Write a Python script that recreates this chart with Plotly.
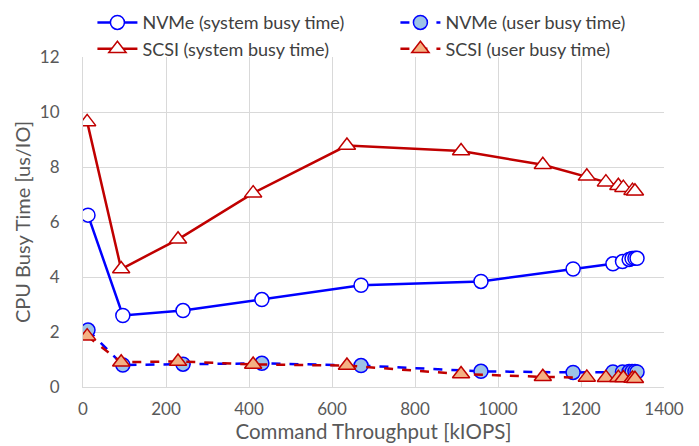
import plotly.graph_objects as go

nvme_x = [12, 96, 241, 431, 670, 959, 1181, 1277, 1300, 1316, 1323, 1330, 1335]
nvme_sys = [6.25, 2.6, 2.78, 3.18, 3.7, 3.84, 4.29, 4.48, 4.56, 4.64, 4.67, 4.68, 4.68]
nvme_usr = [2.07, 0.8, 0.83, 0.86, 0.78, 0.57, 0.53, 0.55, 0.55, 0.56, 0.56, 0.56, 0.55]

scsi_x = [10, 92, 229, 410, 636, 911, 1108, 1214, 1260, 1290, 1302, 1324, 1330]
scsi_sys = [9.64, 4.29, 5.37, 7.05, 8.78, 8.58, 8.08, 7.66, 7.45, 7.32, 7.25, 7.14, 7.12]
scsi_usr = [1.85, 0.9, 0.93, 0.82, 0.78, 0.47, 0.37, 0.35, 0.34, 0.34, 0.33, 0.31, 0.3]

BLUE = "#0000FF"
RED = "#C00000"
FONT = "Lato"

fig = go.Figure()
fig.add_trace(go.Scatter(x=nvme_x, y=nvme_sys, name="NVMe (system busy time)", mode="lines+markers",
                         line=dict(color=BLUE, width=2.5),
                         marker=dict(symbol="circle", size=14, color="white", line=dict(color=BLUE, width=1.5))))
fig.add_trace(go.Scatter(x=nvme_x, y=nvme_usr, name="NVMe (user busy time)", mode="lines+markers",
                         line=dict(color=BLUE, width=2.5, dash="dash"),
                         marker=dict(symbol="circle", size=14, color="#9DC3E6", line=dict(color=BLUE, width=1.5))))
fig.add_trace(go.Scatter(x=scsi_x, y=scsi_sys, name="SCSI (system busy time)", mode="lines+markers",
                         line=dict(color=RED, width=2.5),
                         marker=dict(symbol="triangle-up", size=15, color="white", line=dict(color=RED, width=1.5))))
fig.add_trace(go.Scatter(x=scsi_x, y=scsi_usr, name="SCSI (user busy time)", mode="lines+markers",
                         line=dict(color=RED, width=2.5, dash="dash"),
                         marker=dict(symbol="triangle-up", size=15, color="#F4B183", line=dict(color=RED, width=1.5))))

# the page body has an 8px margin, so margins are offset by 8px
fig.update_layout(
    width=699, height=446,
    margin=dict(l=75, r=43, t=49, b=67, autoexpand=False),
    paper_bgcolor="white", plot_bgcolor="white",
    font=dict(family=FONT, color="#595959", size=17),
    legend=dict(orientation="h", xref="paper", yref="paper",
                x=-0.001, y=1.16, xanchor="left", yanchor="top",
                indentation=10,
                entrywidth=238, entrywidthmode="pixels", font=dict(size=18, color="#404040"),
                tracegroupgap=0, itemwidth=40, bgcolor="rgba(0,0,0,0)"),
    xaxis=dict(range=[0, 1400], dtick=200, showgrid=True, gridcolor="#D9D9D9", gridwidth=1,
               zeroline=False, showline=True, linecolor="#D9D9D9", ticks="", automargin=False,
               ticklabelstandoff=7,
               title=dict(text="Command Throughput [kIOPS]", font=dict(size=20.5, color="#595959"), standoff=0),
               tickfont=dict(size=17, color="#595959")),
    yaxis=dict(range=[0, 12], dtick=2, showgrid=True, gridcolor="#D9D9D9", gridwidth=1,
               zeroline=False, showline=True, linecolor="#D9D9D9", ticks="", automargin=False,
               ticklabelstandoff=19,
               title=dict(text="CPU Busy Time [us/IO]", font=dict(size=20, color="#595959"), standoff=3),
               tickfont=dict(size=17, color="#595959")),
)

fig.write_html("out.html")
